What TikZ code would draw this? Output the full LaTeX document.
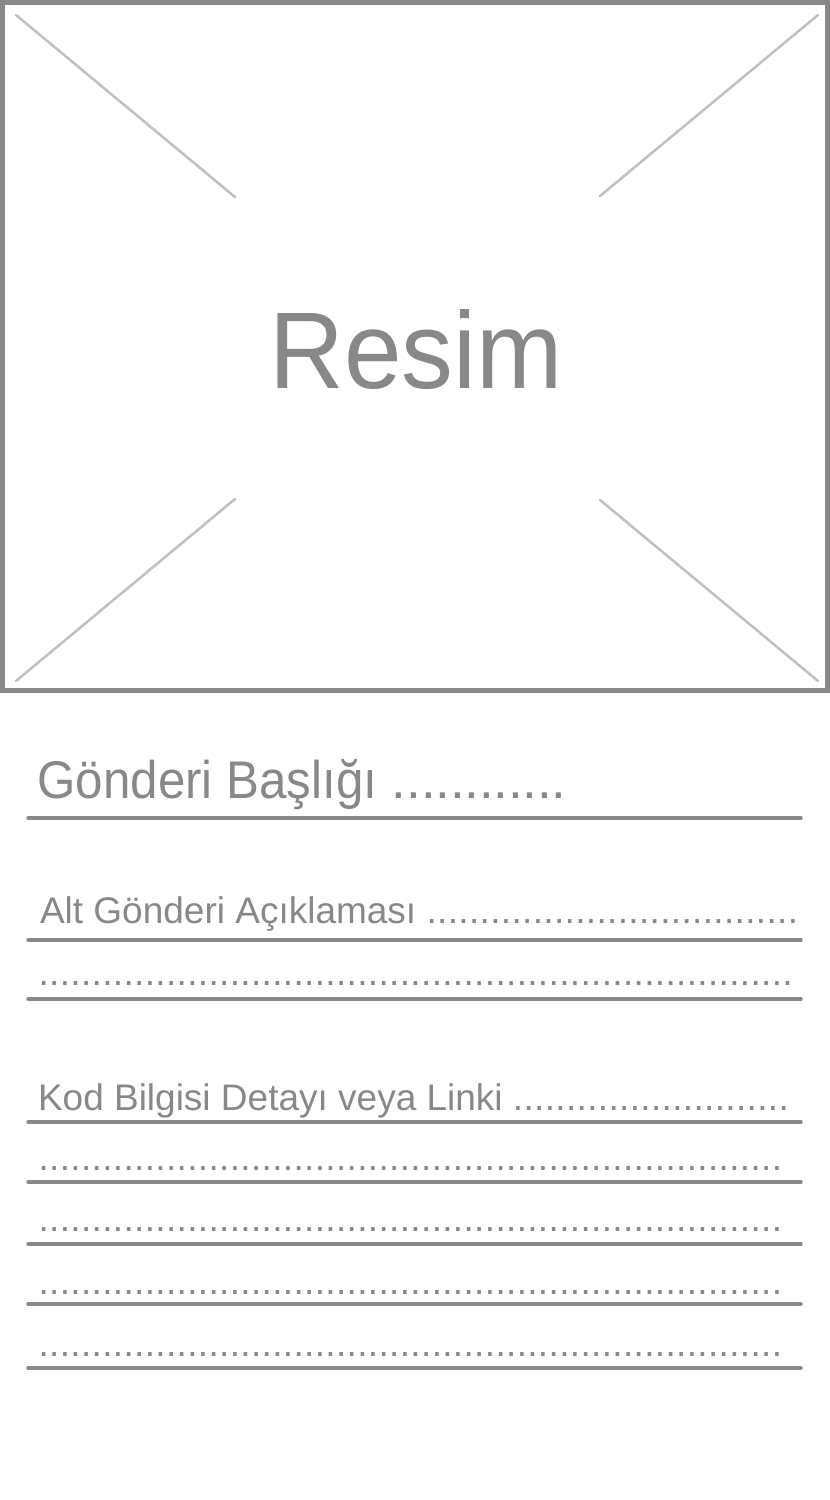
\documentclass[tikz,border=0pt]{standalone}
\usepackage{fontspec}
\setmainfont{Liberation Sans}
\definecolor{frame}{HTML}{888888}
\definecolor{cross}{HTML}{C0C0C0}
\tikzset{
  txt/.style={inner sep=0pt, outer sep=0pt, text=frame, anchor=base west},
  rule/.style={draw=frame, line width=3.5pt, line cap=round},
  crossline/.style={draw=cross, line width=2.5pt, line cap=round},
}
\newcommand\mydotrow[1]{\foreach\i in {1,...,#1}{.\kern0.34pt}}
\begin{document}
\begin{tikzpicture}[x=1pt,y=-1pt]
\useasboundingbox (0,0) rectangle (830,1500);
% image placeholder
\draw[draw=frame, line width=5pt] (2.5,2.5) rectangle (827.5,690.5);
\draw[crossline] (16,15) -- (235,197);
\draw[crossline] (818,15) -- (600,196);
\draw[crossline] (16,681) -- (235,499);
\draw[crossline] (818,681) -- (600,500);
\node[txt, anchor=base] (resim) at (416,388) {\scalebox{0.95}[1]{\fontsize{109}{120}\selectfont Resim}};
% title
\node[txt] (title) at (37.5,798) {\fontsize{53}{60}\selectfont\scalebox{0.93}[1]{Gönderi Başlığı} \foreach\i in {1,...,12}{.\kern-0.2pt}};
\draw[rule] (28,818) -- (801,818);
% sub description
\node[txt] (alt) at (40,923) {\fontsize{37}{42}\selectfont Alt Gönderi Açıklaması \mydotrow{35}};
\draw[rule] (28,940) -- (801,940);
\node[txt] (alt2) at (38.6,985) {\fontsize{37}{42}\selectfont\mydotrow{71}};
\draw[rule] (28,999) -- (801,999);
% code info
\node[txt] (kod) at (38,1110) {\fontsize{37}{42}\selectfont Kod Bilgisi Detayı veya Linki \mydotrow{26}};
\draw[rule] (28,1122) -- (801,1122);
\node[txt] (k1) at (38.6,1170) {\fontsize{37}{42}\selectfont\mydotrow{70}};
\draw[rule] (28,1182) -- (801,1182);
\node[txt] (k2) at (38.6,1231) {\fontsize{37}{42}\selectfont\mydotrow{70}};
\draw[rule] (28,1244) -- (801,1244);
\node[txt] (k3) at (38.6,1294) {\fontsize{37}{42}\selectfont\mydotrow{70}};
\draw[rule] (28,1304) -- (801,1304);
\node[txt] (k4) at (38.6,1356) {\fontsize{37}{42}\selectfont\mydotrow{70}};
\draw[rule] (28,1368) -- (801,1368);
\end{tikzpicture}
\end{document}
